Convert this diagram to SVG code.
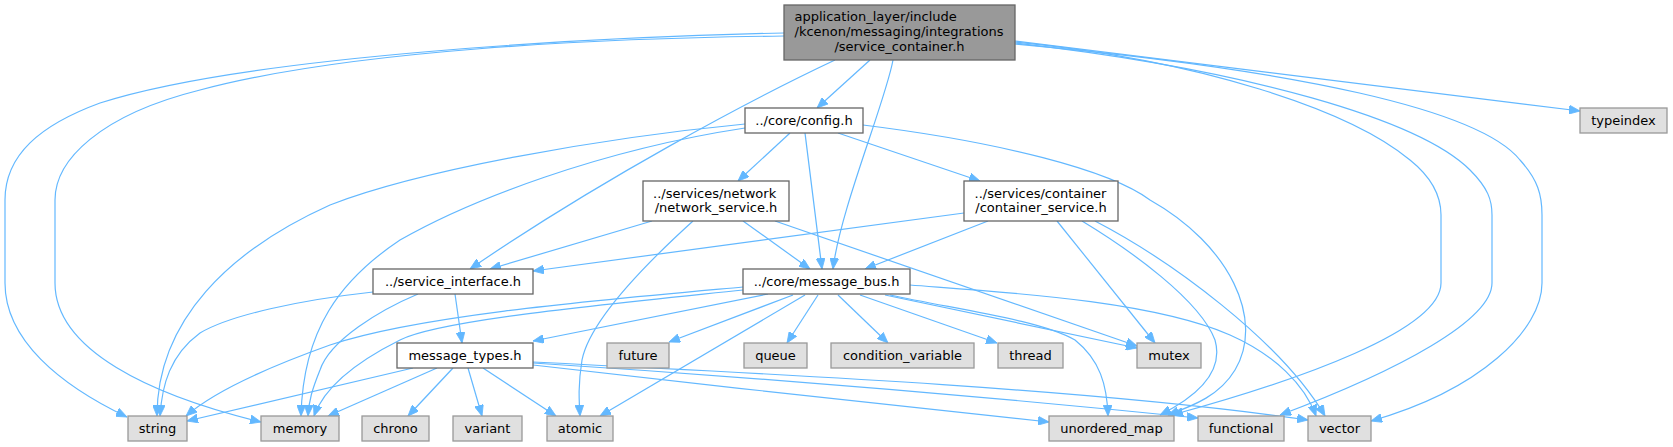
<svg xmlns="http://www.w3.org/2000/svg" width="1673" height="447" viewBox="0 0 1673 447">
<style>
.n rect{fill:#ffffff;stroke:#666666;stroke-width:1.3}
.g rect{fill:#e0e0e0;stroke:#999999;stroke-width:1.3}
.r rect{fill:#999999;stroke:#666666;stroke-width:1.3}
text{font-family:"DejaVu Sans","Liberation Sans",sans-serif;font-size:13px;fill:#000000}
.m{text-anchor:middle}
.s{text-anchor:start}
#edges path{fill:none;stroke:#63b8ff;stroke-width:1.2;marker-end:url(#ah)}
</style>
<defs>
<marker id="ah" markerUnits="userSpaceOnUse" markerWidth="11" markerHeight="9" refX="11" refY="4.5" orient="auto">
<path d="M0,0 L11,4.5 L0,9 z" fill="#63b8ff" stroke="#63b8ff" stroke-width="0.8"/>
</marker>
</defs>
<rect width="1673" height="447" fill="#ffffff"/>
<g id="edges">
<!-- root -->
<path d="M870,60 L817,108"/>
<path d="M893,60 C886,100 840,210 833,269"/>
<path d="M835,60 C750,100 600,180 470,269"/>
<path d="M784,33 C600,37 250,55 100,103 C40,125 5,155 5,200 L5,283 C5,340 60,385 127,417"/>
<path d="M784,36 C600,38 350,50 200,90 C100,115 55,160 55,200 L55,283 C55,350 150,395 261,422"/>
<path d="M1015,41 L1580,111"/>
<path d="M1015,42 C1200,60 1350,110 1410,160 C1435,180 1441,200 1441,215 L1441,283 C1441,330 1300,380 1172,415"/>
<path d="M1015,43 C1250,70 1420,120 1470,170 C1488,188 1492,200 1492,215 L1492,283 C1492,320 1400,370 1280,415"/>
<path d="M1015,44 C1300,70 1480,110 1520,160 C1538,180 1542,195 1542,215 L1542,283 C1542,330 1480,390 1371,421"/>
<!-- config -->
<path d="M790,133 L738,181"/>
<path d="M805,133 L822,269"/>
<path d="M838,133 L980,181"/>
<path d="M745,124 C600,138 420,170 330,205 C230,250 157,320 157,416"/>
<path d="M745,128 C600,150 470,200 400,240 C340,280 303,330 301,416"/>
<path d="M863,125 C1000,142 1110,170 1150,200 C1230,245 1265,320 1235,370 C1220,395 1195,405 1168,415"/>
<!-- network_service -->
<path d="M652,221 L490,269"/>
<path d="M743,221 L810,269"/>
<path d="M775,221 L1137,346"/>
<path d="M693,221 C650,260 590,320 582,360 C578,385 579,400 580,416"/>
<!-- container_service -->
<path d="M964,213 L533,271"/>
<path d="M988,221 L865,269"/>
<path d="M1057,221 L1155,343"/>
<path d="M1082,221 C1130,250 1200,300 1215,340 C1225,375 1190,400 1160,415"/>
<path d="M1095,221 C1170,260 1280,340 1325,416"/>
<!-- service_interface -->
<path d="M373,292 C300,300 230,315 200,333 C170,355 162,385 160,416"/>
<path d="M418,294 C380,310 330,340 320,370 C312,390 309,400 308,416"/>
<path d="M455,294 L462,343"/>
<!-- message_bus -->
<path d="M768,294 L533,341"/>
<path d="M743,287 C600,300 420,315 330,345 C260,370 210,395 186,416"/>
<path d="M743,290 C600,305 440,320 400,340 C360,360 325,385 314,416"/>
<path d="M793,295 L669,342"/>
<path d="M805,295 L600,416"/>
<path d="M818,295 L787,343"/>
<path d="M838,295 L888,343"/>
<path d="M860,295 L997,343"/>
<path d="M885,295 L1137,348"/>
<path d="M890,295 C960,310 1040,320 1075,340 C1100,360 1107,385 1108,416"/>
<path d="M910,285 C1000,292 1150,300 1230,335 C1275,355 1305,385 1316,416"/>
<!-- message_types -->
<path d="M413,368 L187,421"/>
<path d="M437,368 L328,416"/>
<path d="M453,368 L408,416"/>
<path d="M468,368 L482,416"/>
<path d="M483,368 L556,416"/>
<path d="M533,365 C700,385 900,405 1049,422"/>
<path d="M533,363 C800,380 1000,398 1198,418"/>
<path d="M533,362 C800,375 1100,390 1308,420"/>
</g>
<g id="node_root" class="r"><rect x="784" y="5" width="231" height="55"/>
<text class="s" x="794.5" y="21">application_layer/include</text>
<text class="s" x="794.5" y="36">/kcenon/messaging/integrations</text>
<text class="m" x="899.5" y="51">/service_container.h</text></g>
<g id="node_config" class="n"><rect x="745" y="108" width="118" height="25"/><text class="m" x="804" y="125">../core/config.h</text></g>
<g id="node_network" class="n"><rect x="643" y="181" width="146" height="40"/>
<text class="s" x="653" y="197.5">../services/network</text>
<text class="m" x="716" y="212">/network_service.h</text></g>
<g id="node_container" class="n"><rect x="964" y="181" width="154" height="40"/>
<text class="s" x="974.5" y="197.5">../services/container</text>
<text class="m" x="1041" y="212">/container_service.h</text></g>
<g id="node_service_interface" class="n"><rect x="373" y="269" width="160" height="25"/><text class="m" x="453" y="286">../service_interface.h</text></g>
<g id="node_message_bus" class="n"><rect x="743" y="269" width="167" height="25"/><text class="m" x="826.5" y="286">../core/message_bus.h</text></g>
<g id="node_message_types" class="n"><rect x="397" y="343" width="136" height="25"/><text class="m" x="465" y="360">message_types.h</text></g>
<g id="node_future" class="g"><rect x="607" y="343" width="62" height="25"/><text class="m" x="638" y="360">future</text></g>
<g id="node_queue" class="g"><rect x="744" y="343" width="63" height="25"/><text class="m" x="775.5" y="360">queue</text></g>
<g id="node_condition_variable" class="g"><rect x="831" y="343" width="143" height="25"/><text class="m" x="902.5" y="360">condition_variable</text></g>
<g id="node_thread" class="g"><rect x="998" y="343" width="65" height="25"/><text class="m" x="1030.5" y="360">thread</text></g>
<g id="node_mutex" class="g"><rect x="1137" y="343" width="64" height="25"/><text class="m" x="1169" y="360">mutex</text></g>
<g id="node_string" class="g"><rect x="128" y="416" width="59" height="25"/><text class="m" x="157.5" y="433">string</text></g>
<g id="node_memory" class="g"><rect x="261" y="416" width="78" height="25"/><text class="m" x="300" y="433">memory</text></g>
<g id="node_chrono" class="g"><rect x="362" y="416" width="67" height="25"/><text class="m" x="395.5" y="433">chrono</text></g>
<g id="node_variant" class="g"><rect x="453" y="416" width="69" height="25"/><text class="m" x="487.5" y="433">variant</text></g>
<g id="node_atomic" class="g"><rect x="547" y="416" width="66" height="25"/><text class="m" x="580" y="433">atomic</text></g>
<g id="node_unordered_map" class="g"><rect x="1049" y="416" width="125" height="25"/><text class="m" x="1111.5" y="433">unordered_map</text></g>
<g id="node_functional" class="g"><rect x="1198" y="416" width="86" height="25"/><text class="m" x="1241" y="433">functional</text></g>
<g id="node_vector" class="g"><rect x="1308" y="416" width="63" height="25"/><text class="m" x="1339.5" y="433">vector</text></g>
<g id="node_typeindex" class="g"><rect x="1580" y="108" width="87" height="25"/><text class="m" x="1623.5" y="125">typeindex</text></g>
</svg>
